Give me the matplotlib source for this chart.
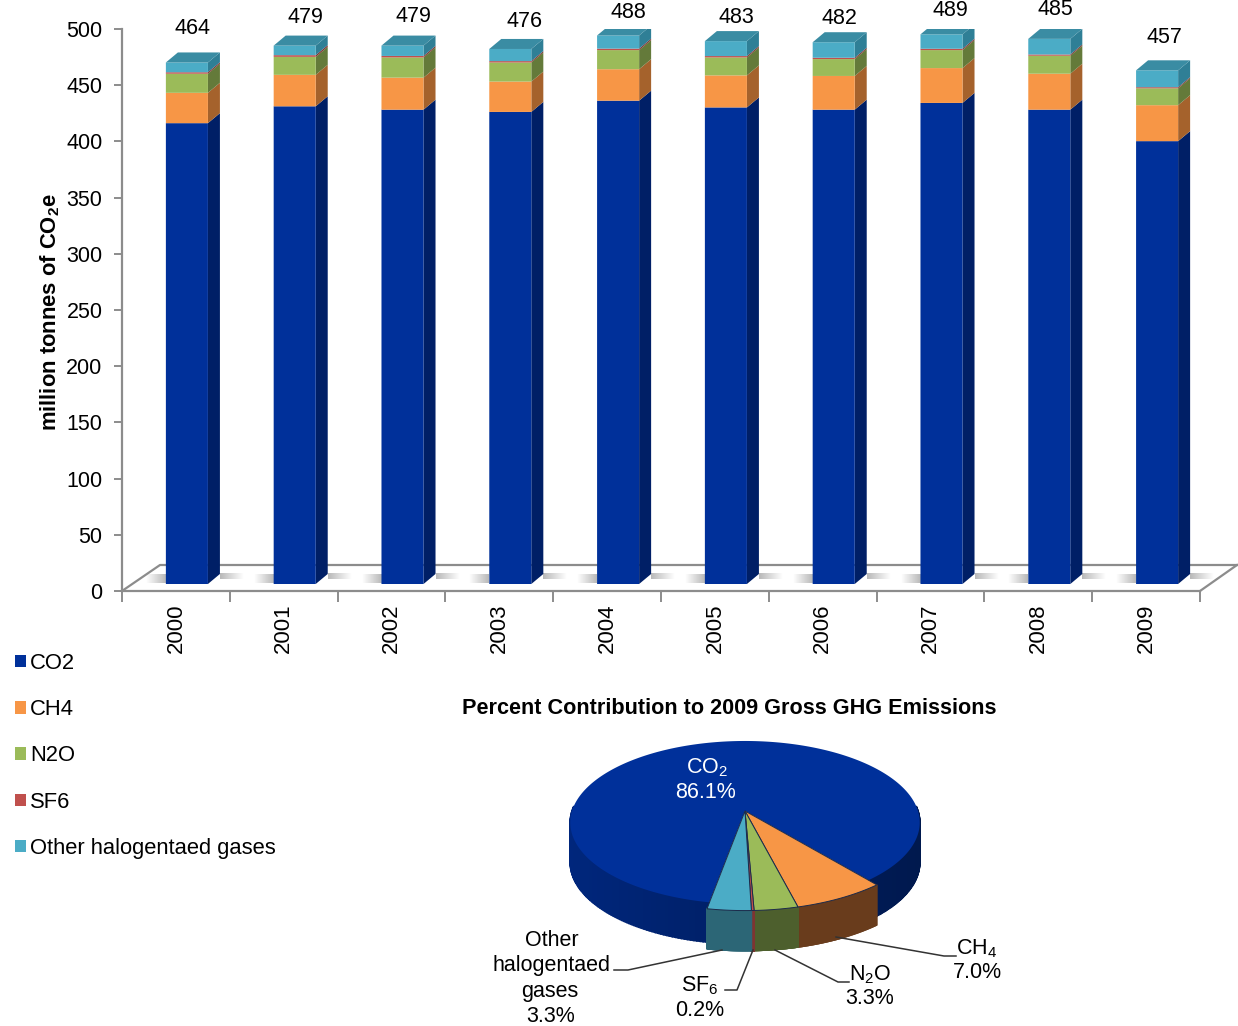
import numpy as np
import matplotlib
matplotlib.use("Agg")
import matplotlib.pyplot as plt
from matplotlib.patches import Polygon, Patch
from matplotlib.transforms import Affine2D

plt.rcParams['font.family'] = ['Liberation Sans', 'DejaVu Sans']
plt.rcParams['mathtext.fontset'] = 'custom'
plt.rcParams['mathtext.rm'] = 'Liberation Sans'
plt.rcParams['mathtext.bf'] = 'Liberation Sans:bold'

W, H = 1238, 1026

years = ['2000', '2001', '2002', '2003', '2004', '2005', '2006', '2007', '2008', '2009']
totals = [464, 479, 479, 476, 488, 483, 482, 489, 485, 457]
co2 = [410, 425, 422, 420, 430, 424, 422, 428, 422, 394]
ch4 = [27, 28, 28.5, 27, 28, 28.5, 30, 31, 32, 32]
n2o = [17, 16, 18, 17, 17, 16, 15, 16, 16, 15]
sf6 = [1.3, 1.5, 1.3, 1.2, 1.3, 1.2, 1.2, 1.2, 1.1, 1.0]
other = [8.7, 8.5, 9.2, 10.8, 11.7, 13.3, 13.8, 12.8, 13.9, 15.0]

gas_names = ['CO2', 'CH4', 'N2O', 'SF6', 'Other halogentaed gases']
front_cols = ['#00309A', '#F79646', '#9BBB59', '#C0504D', '#4BACC6']
side_cols = ['#001F66', '#A5622C', '#647A3A', '#7F3432', '#2F7F96']

pie_vals = [86.1, 7.0, 3.3, 0.2, 3.3]
pie_top = ['#00309A', '#F79646', '#9BBB59', '#C0504D', '#4BACC6']
pie_side = ['#00277E', '#693C1C', '#4D5F2D', '#7F3432', '#2C6676']

# nudges for the total labels, they do not sit evenly in the original
label_dx = [6, 11, 11, 14, 10, 10, 6, 9, 6, 7]
label_dy = [34, 28, 29, 27, 23, 24, 24, 24, 29, 33]

fig = plt.figure(figsize=(W / 100, H / 100), dpi=100)

# pixel axes for floor, pie and labels
px = fig.add_axes([0, 0, 1, 1], zorder=0)
px.axis('off')

ax = fig.add_axes([122 / W, (H - 591) / H, 1078 / W, 562 / H], zorder=1)
ax.patch.set_alpha(0)
ax.set_xlim(-0.5, 9.5)
ax.set_ylim(0, 500)

grey = '#8C8C8C'
for s in ['top', 'right']:
    ax.spines[s].set_visible(False)
for s in ['left', 'bottom']:
    ax.spines[s].set_color(grey)
    ax.spines[s].set_linewidth(1.6)
ax.set_yticks(np.arange(0, 501, 50))
ax.tick_params(axis='y', labelsize=15.5, length=6, color=grey, width=1.4, pad=8)
ax.set_xticks(np.arange(10))
ax.set_xticklabels(years, rotation=90, fontsize=16)
ax.set_xticks(np.arange(-0.5, 10), minor=True)
ax.tick_params(axis='x', which='major', length=0, pad=9)
ax.tick_params(axis='x', which='minor', length=8, color=grey, width=1.4)
ax.set_ylabel('million tonnes of CO$_{\\mathbf{2}}$e', fontsize=15.8, fontweight='bold')
ax.yaxis.set_label_coords(-60 / 1078, 0.497)

# floor
px.plot([122, 160, W], [591, 565, 565], color=grey, lw=1.6)
px.plot([1200, W - 1], [591, 565], color=grey, lw=1.6)

# bars
off = ax.transData + Affine2D().translate(11, 7)
bw = 0.39
dx = 12 / 107.8
dy = 10 / 1.122
x = np.arange(10)
series = [co2, ch4, n2o, sf6, other]
bottom = np.zeros(10)

# grey fading out sideways, used for the floor shadows
fade = np.zeros((1, 32, 4))
fade[..., :3] = 0.5
fade[..., 3] = np.linspace(0.55, 0, 32)

for k in range(5):
    v = np.array(series[k], dtype=float)
    ax.bar(x, v, bw, bottom=bottom, color=front_cols[k], transform=off, zorder=3, linewidth=0, snap=False)
    for i in x:
        r = i + bw / 2
        ax.add_patch(Polygon([(r, bottom[i]), (r + dx, bottom[i] + dy),
                              (r + dx, bottom[i] + v[i] + dy), (r, bottom[i] + v[i])],
                             closed=True, fc=side_cols[k], ec='none', transform=off, zorder=2))
    bottom = bottom + v

for i in x:
    l, r = i - bw / 2, i + bw / 2
    t = bottom[i]
    ax.add_patch(Polygon([(l, t), (r, t), (r + dx, t + dy), (l + dx, t + dy)],
                         closed=True, fc='#3A8CA3', ec='none', transform=off, zorder=3))
    cx = 122 + 107.8 * (i + 0.5) + 11
    px.imshow(fade, extent=(cx - 21, cx - 41, 583, 574), aspect='auto', interpolation='bilinear')
    px.imshow(fade, extent=(cx + 33, cx + 57, 579, 573), aspect='auto', interpolation='bilinear')
    ax.annotate(str(totals[i]), (i, t), xycoords=off, xytext=(label_dx[i], label_dy[i]),
                textcoords=('offset pixels'), ha='center', va='center', fontsize=15.5, zorder=5)

# legend
handles = [Patch(fc=c, ec='none') for c in front_cols]
fig.legend(handles, gas_names, loc='upper left', bbox_to_anchor=(15 / W, 1 - 653 / H), frameon=False,
           fontsize=15.8, handlelength=0.5, handleheight=0.5, handletextpad=0.2, labelspacing=1.15,
           borderaxespad=0, borderpad=0)

# pie: projected disc, far side shrunk like the original's perspective
PCX, PCY = 745, 811
PA, PB, PK = 173, 79.9, 0.141
DEPTH = 40


def disc(ang, r=1.0):
    u = r * np.cos(ang)
    v = r * np.sin(ang)
    w = 1 + PK * v
    return PCX + PA * u / w, PCY - PB * v / w


def wedge_side(a0, a1, r, col, z, shade=False):
    ts = np.linspace(a0, a1, 90)
    for p, q in zip(ts[:-1], ts[1:]):
        x0, y0 = disc(p, r)
        x1, y1 = disc(q, r)
        c = col
        if shade:
            f = np.clip((PCX + 190 - x0) / 380, 0, 1)
            c = tuple(np.array(matplotlib.colors.to_rgb('#00184C')) * (1 - f) +
                      np.array(matplotlib.colors.to_rgb(col)) * f)
        px.fill([x0, x1, x1, x0], [y0, y1, y1 + DEPTH, y0 + DEPTH], fc=c, ec=c, lw=1.2, zorder=z)


start = np.radians(-50.5)
fracs = np.array(pie_vals) / 100 * 2 * np.pi

# CO2 goes the long way round, the rest clockwise across the front
co2_end = start - fracs[1] - fracs[2] - fracs[3] - fracs[4]
wedge_side(start, np.pi * 0.02, 1.0, pie_side[0], 2, shade=True)
wedge_side(np.pi * 0.98, co2_end + 2 * np.pi, 1.0, pie_side[0], 2, shade=True)
ts = np.linspace(start, co2_end + 2 * np.pi, 240)
bx, by = disc(ts)
px.fill(np.r_[PCX, bx], np.r_[PCY, by], color=pie_top[0], lw=0, zorder=3)

a = start
for k in range(1, 5):
    b = a - fracs[k]
    wedge_side(a, b, 1.06, pie_side[k], 4)
    ts = np.linspace(a, b, 30)
    sx, sy = disc(ts, 1.06)
    px.fill(np.r_[PCX, sx], np.r_[PCY, sy], fc=pie_top[k], ec='#1C2A4A', lw=0.7, zorder=5)
    a = b

txt = dict(ha='center', va='center', fontsize=15.5, zorder=7)
px.text(729, 709, 'Percent Contribution to 2009 Gross GHG Emissions', ha='center', va='center',
        fontsize=15.6, fontweight='bold', zorder=7)
px.text(707, 768, 'CO$_2$', color='white', **txt)
px.text(706, 792, '86.1%', color='white', **txt)
px.text(977, 949, 'CH$_4$', **txt)
px.text(977, 973, '7.0%', **txt)
px.text(870, 975, 'N$_2$O', **txt)
px.text(870, 998, '3.3%', **txt)
px.text(700, 986, 'SF$_6$', **txt)
px.text(700, 1011, '0.2%', **txt)
px.text(552, 941, 'Other', **txt)
px.text(552, 966, 'halogentaed', **txt)
px.text(550, 991, 'gases', **txt)
px.text(551, 1016, '3.3%', **txt)

lead = dict(color='#333333', lw=1.1, zorder=6)
px.plot([836, 944, 956], [937, 956, 956], **lead)
px.plot([775, 838, 849], [950, 982, 982], **lead)
px.plot([753, 737, 725], [950, 990, 990], **lead)
px.plot([722, 628, 614], [950, 970, 970], **lead)

# imshow resets the limits, so fix them last
px.set_xlim(0, W)
px.set_ylim(H, 0)

fig.savefig('out.png', dpi=100)
